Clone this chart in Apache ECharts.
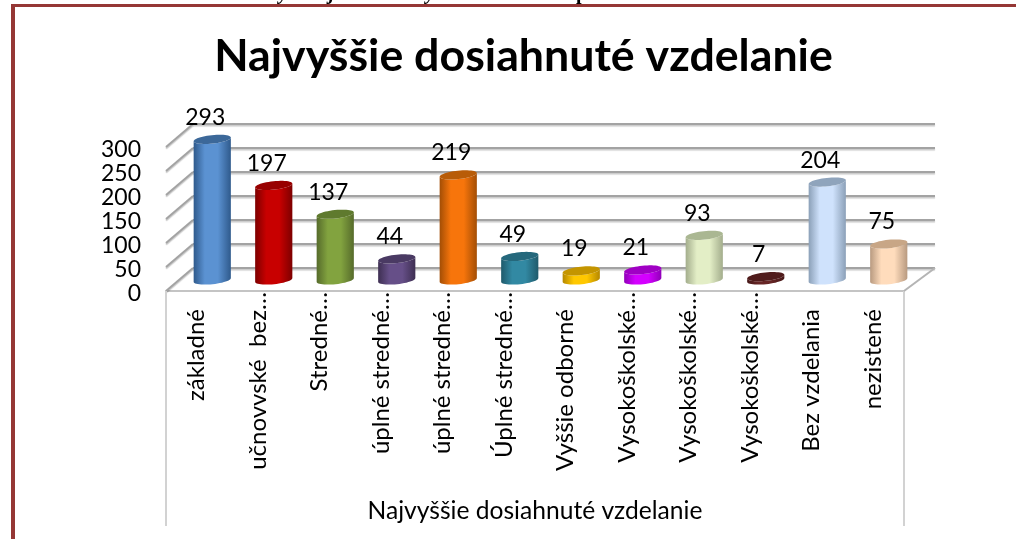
<!DOCTYPE html>
<html>
<head>
<meta charset="utf-8">
<style>html,body{margin:0;padding:0;background:#fff}#c{width:1016px;height:539px}</style>
<script src="https://cdn.jsdelivr.net/npm/echarts@6/dist/echarts.min.js"></script>
</head>
<body>
<div id="c"></div>
<script>
var categories = ['základné','učnovvské  bez…','Stredné…','úplné stredné…','úplné stredné…','Úplné stredné…','Vyššie odborné','Vysokoškolské…','Vysokoškolské…','Vysokoškolské…','Bez vzdelania','nezistené'];
var values = [293,197,137,44,219,49,19,21,93,7,204,75];
var yTicks = [0,50,100,150,200,250,300];
var titleText = 'Najvyššie dosiahnuté vzdelanie';
var axisName = 'Najvyššie dosiahnuté vzdelanie';
// [edge, centre, top]
var barColors = [
 ['#2f5a8c','#5b92d2','#3c6899'],
 ['#7d0000','#c80000','#980000'],
 ['#566b2b','#82a33f','#5f7a2e'],
 ['#3e2f52','#664f88','#4a3a63'],
 ['#a34e05','#f7750b','#b85c08'],
 ['#1f5a6b','#3289a3','#25687c'],
 ['#b58800','#ffc800','#c49500'],
 ['#9000b8','#d400ff','#a000c4'],
 ['#a3ad8c','#e3eec6','#aab792'],
 ['#451717','#662525','#4f1b1b'],
 ['#8ba0b8','#cfe2fc','#8fa4bc'],
 ['#b89a80','#ffdcbc','#c8a686']
];
var FONT = 'Lato';
var depthX = 27, depthY = 23;
var midX = 15.5, midY = 11;
var rx = 18.7, ry = 4.2, tilt = 6 * Math.PI / 180;

function ell(cx, cy, t0, t1, n) {
  var out = [];
  for (var k = 0; k <= n; k++) {
    var t = t0 + (t1 - t0) * k / n;
    var dx = rx * Math.cos(t), dy = ry * Math.sin(t);
    out.push([cx + dx * Math.cos(tilt) + dy * Math.sin(tilt), cy - dx * Math.sin(tilt) + dy * Math.cos(tilt)]);
  }
  return out;
}

function renderFrame(params, api) {
  var p = api.coord([0, api.value(1)]);
  var cs = params.coordSys;
  var x0 = cs.x, x1 = cs.x + cs.width, y = p[1];
  var col = '#a3a3a3';
  var sh = {stroke: col, lineWidth: 2, shadowColor: 'rgba(0,0,0,0.22)', shadowBlur: 1, shadowOffsetY: 1.5};
  return {type: 'group', children: [
    {type: 'line', shape: {x1: x0, y1: y, x2: x0 + depthX, y2: y - depthY}, style: sh},
    {type: 'line', shape: {x1: x0 + depthX, y1: y - depthY, x2: x1 + 31, y2: y - depthY}, style: sh}
  ]};
}

function renderEdges(params, api) {
  var cs = params.coordSys;
  var x0 = cs.x, x1 = cs.x + cs.width, y = cs.y + cs.height;
  var soft = {stroke: '#d2d2d2', lineWidth: 2};
  return {type: 'group', children: [
    {type: 'line', shape: {x1: x0, y1: y, x2: x0, y2: y + 235}, style: soft},
    {type: 'line', shape: {x1: x1, y1: y, x2: x1, y2: y + 235}, style: soft},
    {type: 'line', shape: {x1: x1, y1: y, x2: x1 + 31, y2: y - depthY}, style: {stroke: '#b4b4b4', lineWidth: 2}}
  ]};
}

function renderBar(params, api) {
  var i = api.value(0), v = api.value(1);
  var top = api.coord([i, v]), base = api.coord([i, 0]);
  var cx = base[0] + midX, by = base[1] - midY, ty = top[1] - midY;
  var c = barColors[i];
  var pts = ell(cx, by, 0, Math.PI, 24).concat(ell(cx, ty, Math.PI, 0, 24));
  return {type: 'group', children: [
    {type: 'polygon', shape: {points: pts}, style: {
      fill: {type: 'linear', x: 0, y: 0, x2: 1, y2: 0, colorStops: [
        {offset: 0, color: c[0]}, {offset: 0.3, color: c[1]}, {offset: 0.65, color: c[1]}, {offset: 1, color: c[0]}
      ]}
    }},
    {type: 'polygon', shape: {points: ell(cx, ty, 0, Math.PI * 2, 48)}, style: {fill: c[2]}},
    {type: 'text', x: cx - 7, y: ty - 22, style: {
      text: String(v), fill: '#000', font: '23px ' + FONT, textAlign: 'center', textVerticalAlign: 'middle'
    }}
  ]};
}

var chart = echarts.init(document.getElementById('c'), null, {renderer: 'canvas'});
chart.setOption({
  animation: false,
  backgroundColor: '#fff',
  title: {
    text: titleText, left: 518.5, top: 29.5, textAlign: 'center',
    textStyle: {fontFamily: FONT, fontSize: 44.7, fontWeight: 700, color: '#000'}
  },
  grid: {left: 166, right: 112, top: 147, bottom: 248, containLabel: false},
  xAxis: {
    type: 'category', data: categories,
    axisLine: {show: true, lineStyle: {color: '#c4c4c4', width: 2}},
    axisTick: {show: false}, splitLine: {show: false},
    name: axisName, nameLocation: 'middle', nameGap: 208,
    nameTextStyle: {fontFamily: FONT, fontSize: 24.6, color: '#000'},
    axisLabel: {
      interval: 0, rotate: 90, margin: 1, color: '#000', fontFamily: FONT, fontSize: 24,
      formatter: function (s) { return s.indexOf('…') >= 0 ? s : '{p|' + s + '}'; },
      rich: {p: {fontFamily: FONT, fontSize: 24, color: '#000', padding: [0, 17, 0, 0]}}
    }
  },
  yAxis: {
    type: 'value', min: 0, max: 300, interval: 50,
    axisLine: {show: false}, axisTick: {show: false}, splitLine: {show: false},
    axisLabel: {
      margin: 25, color: '#000', fontFamily: FONT, fontSize: 23,
      formatter: '{v|{value}}',
      rich: {v: {fontFamily: FONT, fontSize: 23, color: '#000', padding: [6, 0, 0, 0]}}
    }
  },
  graphic: [
    {type: 'text', x: 279, y: 4, z: 50, style: {text: 'y', font: 'italic bold 20px "Liberation Serif"', fill: '#000', verticalAlign: 'bottom'}},
    {type: 'text', x: 329, y: 4, z: 50, style: {text: 'j', font: 'italic bold 20px "Liberation Serif"', fill: '#000', verticalAlign: 'bottom'}},
    {type: 'text', x: 426, y: 4, z: 50, style: {text: 'y', font: 'italic bold 20px "Liberation Serif"', fill: '#000', verticalAlign: 'bottom'}},
    {type: 'text', x: 576, y: 4, z: 50, style: {text: 'p', font: 'bold 20px "Liberation Serif"', fill: '#000', verticalAlign: 'bottom'}},
    {type: 'rect', z: 60, shape: {x: 11, y: 4, width: 4, height: 535}, style: {fill: '#953735'}},
    {type: 'rect', z: 60, shape: {x: 11, y: 4, width: 1005, height: 3}, style: {fill: '#953735'}}
  ],
  series: [
    {type: 'custom', z: 1, silent: true, renderItem: renderFrame, encode: {x: 0, y: 1}, data: yTicks.map(function (v) { return [0, v]; })},
    {type: 'custom', z: 2, silent: true, renderItem: renderEdges, encode: {x: 0, y: 1}, data: [[0, 0]]},
    {type: 'custom', z: 3, silent: true, renderItem: renderBar, encode: {x: 0, y: 1}, data: values.map(function (v, i) { return [i, v]; })}
  ]
});
</script>
</body>
</html>
